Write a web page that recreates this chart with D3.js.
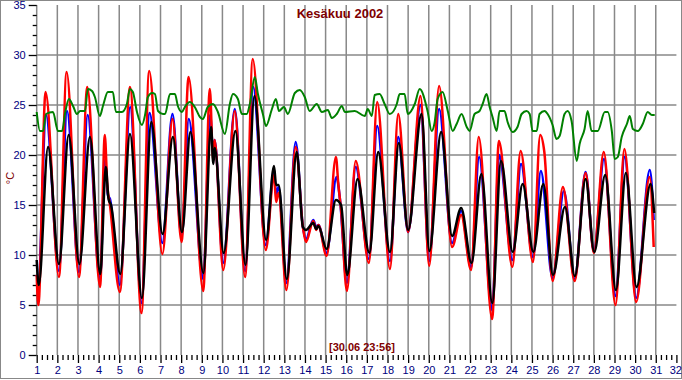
<!DOCTYPE html>
<html>
<head>
<meta charset="utf-8">
<script src="https://cdn.jsdelivr.net/npm/d3@7"></script>
<style>
  html, body { margin: 0; padding: 0; background: #fff; }
  svg { display: block; }
  .tick text { font-family: "Liberation Sans Narrow", "Arial Narrow", "Liberation Sans", Arial, sans-serif; font-size: 11px; fill: #000080; }
</style>
</head>
<body>
<svg id="chart" width="682" height="380"></svg>
<script>
// ---- data ----
const title = "Kesäkuu 2002";
const stamp = "[30.06 23:56]";
const unitLabel = "°C";
const dayTicks = d3.range(1, 33);
const tempTicks = [0, 5, 10, 15, 20, 25, 30, 35];

// [day, °C]
const redData = [
  [1.00,8.0],[1.08,5.0],[1.43,26.3],[2.08,7.8],[2.45,28.3],[3.05,7.8],[3.45,26.8],[4.07,6.8],
  [4.30,22.0],[4.42,17.0],[4.55,15.0],[5.03,6.3],[5.52,26.8],[6.08,4.2],[6.45,28.4],[7.09,10.1],
  [7.58,23.6],[8.02,11.3],[8.36,27.8],[9.07,6.4],[9.39,26.6],[9.55,19.5],[9.62,21.5],[10.04,8.5],
  [10.60,24.4],[11.10,7.8],[11.47,29.6],[12.10,10.5],[12.50,18.0],[12.60,15.3],[12.72,16.2],[13.10,6.5],
  [13.55,20.8],[13.90,12.8],[14.05,11.3],[14.40,13.4],[14.55,12.5],[14.65,13.0],[15.05,9.9],[15.50,19.8],
  [15.62,17.0],[15.75,14.5],[16.03,6.4],[16.46,19.4],[17.10,9.2],[17.50,25.3],[18.12,8.6],[18.52,24.1],
  [19.00,12.3],[19.60,25.9],[20.02,8.9],[20.50,26.9],[21.13,10.8],[21.57,14.0],[22.05,8.5],[22.42,21.8],
  [23.07,3.6],[23.40,21.4],[24.05,8.8],[24.45,20.4],[25.05,9.3],[25.40,22.0],[25.60,20.3],[26.00,7.4],
  [26.50,16.8],[27.07,7.4],[27.60,18.2],[28.00,10.2],[28.48,20.3],[29.05,5.0],[29.48,20.6],[30.05,5.3],
  [30.70,17.8],[30.90,10.8]
];
const blueData = [
  [1.00,8.0],[1.08,7.5],[1.45,24.0],[2.08,8.4],[2.47,24.4],[3.05,8.3],[3.47,24.0],[4.07,7.5],
  [4.31,19.5],[4.45,16.0],[4.55,15.6],[5.03,7.0],[5.53,24.8],[6.08,5.2],[6.47,24.2],[7.09,11.2],
  [7.58,24.1],[8.02,11.8],[8.37,23.6],[9.07,7.6],[9.41,24.0],[9.55,20.0],[9.62,21.5],[10.04,9.2],
  [10.60,24.6],[11.10,8.4],[11.49,26.8],[12.10,11.0],[12.50,18.5],[12.60,16.0],[12.72,16.8],[13.10,7.2],
  [13.55,21.3],[13.90,12.8],[14.05,11.6],[14.40,13.5],[14.55,12.8],[14.65,13.0],[15.05,10.2],[15.53,17.8],
  [15.70,15.5],[16.03,7.2],[16.46,18.8],[17.10,9.6],[17.50,22.9],[18.12,9.4],[18.52,21.8],[19.00,12.3],
  [19.60,25.0],[20.02,9.4],[20.50,24.6],[21.13,11.2],[21.57,14.4],[22.05,8.8],[22.44,19.8],[23.07,4.5],
  [23.41,20.0],[24.05,9.5],[24.47,19.1],[25.05,9.8],[25.43,18.4],[26.00,7.7],[26.55,16.4],[27.07,7.6],
  [27.60,18.3],[28.00,10.3],[28.49,19.6],[29.05,5.9],[29.49,19.8],[30.05,5.7],[30.71,18.5],[30.90,13.5]
];
const blackData = [
  [1.00,9.5],[1.10,7.0],[1.55,20.8],[2.08,9.1],[2.55,22.0],[3.07,9.1],[3.58,21.8],[4.08,8.1],
  [4.35,18.8],[4.48,15.6],[4.60,15.0],[5.05,8.1],[5.52,22.1],[6.10,5.7],[6.55,23.3],[7.10,12.1],
  [7.60,21.8],[8.04,12.3],[8.45,22.3],[9.08,8.2],[9.45,22.8],[9.56,19.1],[9.63,20.7],[10.06,10.2],
  [10.63,22.4],[11.12,9.0],[11.55,25.9],[12.12,11.5],[12.50,18.9],[12.60,17.0],[12.72,17.0],[13.12,7.6],
  [13.60,20.3],[13.90,12.8],[14.05,12.5],[14.40,13.2],[14.55,12.6],[14.65,12.9],[15.05,10.6],[15.50,15.5],
  [15.75,15.0],[16.05,8.0],[16.55,17.6],[17.12,10.2],[17.55,20.3],[18.12,10.3],[18.55,21.2],[19.00,12.5],
  [19.65,24.1],[20.03,10.4],[20.60,22.3],[21.13,11.9],[21.57,14.7],[22.07,9.2],[22.55,18.1],[23.08,5.2],
  [23.50,19.4],[24.07,10.3],[24.55,17.1],[25.07,10.3],[25.55,17.1],[26.02,8.0],[26.60,14.8],[27.08,7.9],
  [27.60,17.6],[28.02,10.3],[28.55,18.0],[29.07,6.5],[29.55,18.2],[30.07,6.8],[30.75,17.1],[30.92,14.2]
];
const greenData = [
  [1.00,24.3],[1.16,22.4],[1.31,22.4],[1.45,24.1],[1.79,24.3],[2.03,22.4],[2.23,22.4],[2.37,24.1],
  [2.56,25.6],[2.76,24.9],[2.95,24.1],[3.10,24.4],[3.34,24.4],[3.48,26.6],[3.68,26.4],[3.82,25.8],
  [4.06,23.9],[4.21,24.9],[4.45,26.3],[4.69,26.3],[4.84,24.3],[5.13,24.3],[5.37,25.1],[5.52,26.6],
  [5.66,26.3],[5.86,24.3],[6.10,23.0],[6.25,24.0],[6.39,25.8],[6.59,26.2],[6.73,26.1],[6.88,24.4],
  [7.12,24.1],[7.22,24.1],[7.46,26.1],[7.70,26.1],[7.84,24.9],[8.04,24.3],[8.18,24.8],[8.42,25.3],
  [8.66,24.8],[8.91,23.8],[9.05,23.6],[9.29,24.8],[9.54,25.1],[9.78,24.3],[10.12,22.1],[10.36,25.1],
  [10.51,26.1],[10.75,25.6],[10.94,24.1],[11.18,24.1],[11.33,25.1],[11.57,27.8],[11.72,26.1],[11.96,24.1],
  [12.11,22.9],[12.40,24.6],[12.59,25.6],[12.74,24.4],[12.98,24.8],[13.17,24.1],[13.51,26.2],[13.75,26.5],
  [13.99,25.8],[14.23,24.4],[14.57,25.1],[14.82,24.3],[15.11,24.5],[15.30,23.7],[15.54,24.1],[15.79,24.9],
  [15.93,24.3],[16.41,24.4],[16.90,23.9],[17.04,24.6],[17.24,23.9],[17.38,26.0],[17.62,26.1],[17.86,25.1],
  [18.11,24.1],[18.45,25.1],[18.59,26.1],[18.83,26.1],[18.98,24.1],[19.32,25.1],[19.56,26.6],[19.94,24.4],
  [20.14,22.4],[20.28,23.2],[20.43,25.6],[20.67,26.3],[20.92,24.4],[21.16,22.4],[21.35,23.1],[21.59,24.1],
  [21.84,22.8],[21.98,22.4],[22.22,24.1],[22.46,24.4],[22.61,25.1],[22.80,26.1],[22.95,24.8],[23.09,23.8],
  [23.29,22.4],[23.43,24.4],[23.67,24.4],[23.82,23.3],[24.06,22.3],[24.30,22.8],[24.50,24.1],[24.74,24.4],
  [24.89,24.1],[25.03,22.4],[25.23,22.4],[25.37,24.1],[25.61,24.4],[25.76,24.1],[26.00,23.0],[26.19,21.6],
  [26.34,21.9],[26.58,24.1],[26.73,24.4],[26.92,23.4],[27.17,19.4],[27.31,21.1],[27.55,22.6],[27.70,24.4],
  [27.89,22.4],[28.19,22.4],[28.53,24.3],[28.67,24.3],[28.87,22.4],[29.01,19.6],[29.16,19.8],[29.35,21.8],
  [29.60,23.1],[29.74,23.9],[29.89,22.6],[30.13,22.4],[30.37,23.1],[30.61,24.3],[30.81,24.0],[30.95,24.0]
];

// drawing order: blue under red, black and green on top
const seriesList = [
  { name: "blue",  data: blueData,  color: "#0000ff", width: 2.5 },
  { name: "red",   data: redData,   color: "#ff0000", width: 2.5 },
  { name: "black", data: blackData, color: "#000000", width: 2.5 },
  { name: "green", data: greenData, color: "#008000", width: 2 }
];

// ---- drawing ----
const svg = d3.select("#chart");
const x = d3.scaleLinear().domain([1, 32]).range([36.7, 676.4]);
const y = d3.scaleLinear().domain([0, 35]).range([355, 5]);

// frame
svg.append("rect").attr("x", 0.5).attr("y", 0.5).attr("width", 681).attr("height", 378)
  .attr("fill", "#fff").attr("stroke", "#888").attr("stroke-width", 1);

// grid
const grid = svg.append("g").attr("stroke", "#888").attr("stroke-width", 1.5);
grid.selectAll("line.v").data(dayTicks.filter(d => d <= 31)).join("line")
  .attr("x1", d => x(d)).attr("x2", d => x(d)).attr("y1", y(35)).attr("y2", y(0));
grid.selectAll("line.h").data([5, 10, 15, 20, 25, 30]).join("line")
  .attr("x1", x(1)).attr("x2", x(32)).attr("y1", d => y(d)).attr("y2", d => y(d));

// axes
const minorDays = d3.range(1, 32).flatMap(d => [d + 0.25, d + 0.5, d + 0.75]);
svg.append("g").attr("transform", `translate(0,${y(0)})`)
  .call(d3.axisBottom(x).tickValues(minorDays).tickSize(5).tickFormat(""))
  .call(g => g.select(".domain").remove())
  .call(g => g.selectAll(".tick line").attr("stroke", "#000").attr("stroke-width", 1.3));
svg.append("g").attr("transform", `translate(0,${y(0)})`)
  .call(d3.axisBottom(x).tickValues(dayTicks).tickSize(8).tickPadding(3).tickFormat(d3.format("d")))
  .call(g => g.select(".domain").remove())
  .call(g => g.selectAll(".tick line").attr("stroke", "#000").attr("stroke-width", 1.3))
  .call(g => g.selectAll(".tick text").filter(d => d === 32).attr("text-anchor", "end").attr("dx", "5"));

const minorTemps = d3.range(0, 36).filter(v => v % 5 !== 0);
svg.append("g").attr("transform", `translate(${x(1)},0)`)
  .call(d3.axisLeft(y).tickValues(minorTemps).tickSize(4).tickFormat(""))
  .call(g => g.select(".domain").remove())
  .call(g => g.selectAll(".tick line").attr("stroke", "#000").attr("stroke-width", 1.3));
svg.append("g").attr("transform", `translate(${x(1)},0)`)
  .call(d3.axisLeft(y).tickValues(tempTicks).tickSize(8).tickPadding(3).tickFormat(d3.format("d")))
  .call(g => g.select(".domain").remove())
  .call(g => g.selectAll(".tick line").attr("stroke", "#000").attr("stroke-width", 1.3));

// series
const line = d3.line().x(d => x(d[0])).y(d => y(d[1])).curve(d3.curveMonotoneX);
svg.append("g").selectAll("path").data(seriesList).join("path")
  .attr("d", s => line(s.data))
  .attr("fill", "none")
  .attr("stroke", s => s.color)
  .attr("stroke-width", s => s.width)
  .attr("stroke-linejoin", "round");

// texts
svg.append("text").attr("x", 340).attr("y", 18).attr("text-anchor", "middle")
  .attr("font-family", "'Liberation Sans', Arial, sans-serif").attr("font-size", 13).attr("font-weight", "bold")
  .attr("fill", "#800000").text(title);
svg.append("text").attr("x", 362).attr("y", 351).attr("text-anchor", "middle")
  .attr("font-family", "'Liberation Sans', Arial, sans-serif").attr("font-size", 11).attr("font-weight", "bold")
  .attr("fill", "#800000").text(stamp);
svg.append("text").attr("transform", "translate(14,178) rotate(-90)").attr("text-anchor", "middle")
  .attr("font-family", "'Liberation Sans', Arial, sans-serif").attr("font-size", 11)
  .attr("fill", "#800000").text(unitLabel);
</script>
</body>
</html>
